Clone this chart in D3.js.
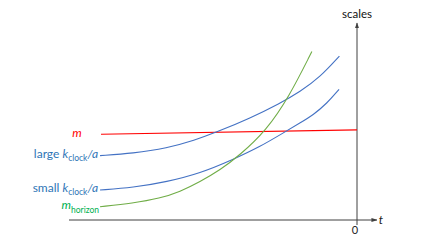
<!DOCTYPE html>
<html><head><meta charset="utf-8">
<script src="https://cdn.jsdelivr.net/npm/d3@7"></script>
<style>html,body{margin:0;padding:0;background:#fff}svg{display:block}text{font-family:Lato,"Open Sans",sans-serif}</style>
</head><body><svg id="c" width="432" height="243"></svg>
<script>
// time (t, arbitrary units, 0 = today) and scale values
const mT = [-8.0, 0];
const mV = [4.40, 4.62];
const largeT = [-8.03, -7.0, -5.94, -5.06, -4.44, -3.34, -2.41, -1.78, -1.16, -0.55];
const largeV = [3.30, 3.42, 3.68, 4.10, 4.47, 5.22, 5.98, 6.58, 7.32, 8.41];
const smallT = [-8.03, -7.0, -5.94, -4.91, -3.875, -3.03, -2.31, -1.78, -1.375, -0.94, -0.56];
const smallV = [1.54, 1.66, 1.96, 2.39, 3.10, 3.76, 4.46, 4.98, 5.38, 5.98, 6.70];
const horizonT = [-8.03, -7.0, -6.16, -5.53, -4.91, -4.28, -3.66, -2.84, -2.125, -1.41];
const horizonV = [0.68, 0.86, 1.11, 1.45, 1.96, 2.56, 3.33, 4.58, 6.31, 8.64];
const xTickLabels = ["0"];
const axisLabels = {x: "t", y: "scales"};

const svg = d3.select("#c");
const x = d3.scaleLinear().domain([-9, 0]).range([69, 357]);
const y = d3.scaleLinear().domain([0, 10]).range([220, 25]);
const axisCol = "#404040";

const defs = svg.append("defs");
defs.append("marker").attr("id","arr").attr("viewBox","0 0 10 10").attr("refX",9).attr("refY",5)
  .attr("markerWidth",6).attr("markerHeight",6).attr("orient","auto-start-reverse")
  .append("path").attr("d","M0,1.5L10,5L0,8.5z").attr("fill",axisCol);

// axes
svg.append("line").attr("x1",x(-9)).attr("x2",x(0.62)).attr("y1",y(0)).attr("y2",y(0))
  .attr("stroke",axisCol).attr("stroke-width",1).attr("marker-end","url(#arr)");
svg.append("line").attr("x1",x(0)).attr("x2",x(0)).attr("y1",y(0)+5).attr("y2",y(10.1))
  .attr("stroke",axisCol).attr("stroke-width",1).attr("marker-end","url(#arr)");
svg.append("text").attr("x",x(0)-2).attr("y",y(0)+14).attr("text-anchor","middle")
  .attr("font-size",11).attr("fill","#222").text(xTickLabels[0]);
svg.append("text").attr("x",x(0.62)+2).attr("y",y(0)+4).attr("font-size",12)
  .attr("font-style","italic").attr("fill","#222").text(axisLabels.x);
svg.append("text").attr("x",x(0)).attr("y",y(10)-7).attr("text-anchor","middle")
  .attr("font-size",11.5).attr("fill","#111").text(axisLabels.y);

const line = d3.line().x(d=>x(d[0])).y(d=>y(d[1])).curve(d3.curveBasis);
const series = [
  {t: mT, v: mV, col: "#ff0000"},
  {t: largeT, v: largeV, col: "#4472c4"},
  {t: smallT, v: smallV, col: "#4472c4"},
  {t: horizonT, v: horizonV, col: "#70ad47"}
];
series.forEach(s => {
  svg.append("path").datum(d3.zip(s.t, s.v)).attr("d", line)
    .attr("fill","none").attr("stroke", s.col).attr("stroke-width",1.1);
});

// labels
const blueTxt = "#2e75b6";
function kLabel(prefix, t0, v0) {
  const tx = svg.append("text").attr("x", x(t0)-2).attr("y", y(v0)+2.5)
    .attr("text-anchor","end").attr("font-size",12).attr("fill",blueTxt);
  tx.append("tspan").text(prefix + " ");
  tx.append("tspan").attr("font-style","italic").text("k");
  tx.append("tspan").attr("font-size",8.5).attr("dy",2.5).text("clock");
  tx.append("tspan").attr("dy",-2.5).attr("font-style","italic").text("/a");
}
kLabel("large", largeT[0], largeV[0]);
kLabel("small", smallT[0], smallV[0]);

svg.append("text").attr("x", x(mT[0])-24).attr("y", y(mV[0])+3).attr("text-anchor","middle")
  .attr("font-size",12).attr("font-style","italic").attr("fill","#ff0000").text("m");

const h = svg.append("text").attr("x", x(horizonT[0])-1).attr("y", y(horizonV[0])+2)
  .attr("text-anchor","end").attr("fill","#00b050");
h.append("tspan").attr("font-size",12).attr("font-style","italic").text("m");
h.append("tspan").attr("font-size",8.5).attr("dy",4.5).text("horizon");
</script></body></html>
